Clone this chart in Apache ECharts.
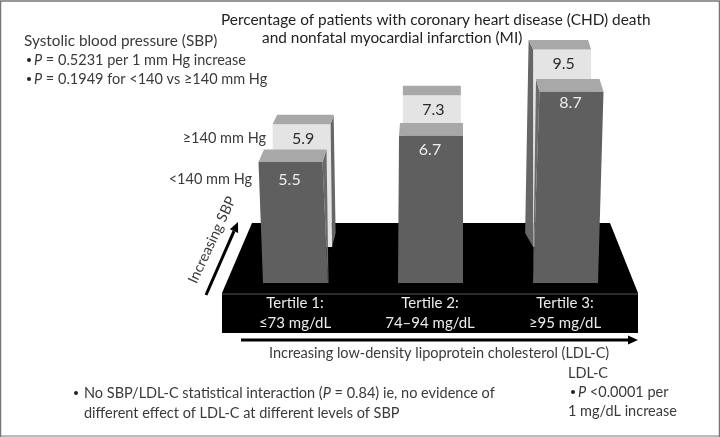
<!DOCTYPE html>
<html><head><meta charset="utf-8">
<style>html,body{margin:0;padding:0;background:#fff}#c{width:720px;height:437px}</style>
<script src="https://cdn.jsdelivr.net/npm/echarts@6/dist/echarts.min.js"></script>
</head><body><div id="c"></div>
<script>
const categories = ['Tertile 1:\n≤73 mg/dL', 'Tertile 2:\n74–94 mg/dL', 'Tertile 3:\n≥95 mg/dL'];
const lowSbpValues = [5.5, 6.7, 8.7];
const highSbpValues = [5.9, 7.3, 9.5];
const seriesNames = ['<140 mm Hg', '≥140 mm Hg'];

const FONT = 'Lato';
const INK = '#3a3a3a';
const chart = echarts.init(document.getElementById('c'));

function poly(points, fill, z2) {
  return { type: 'polygon', z2: z2 || 0, shape: { points }, style: { fill } };
}
function valueText(x, y, text, fill) {
  return { type: 'text', z2: 5, style: { x, y, text, fill, fontFamily: FONT, fontSize: 16, align: 'center', verticalAlign: 'middle' } };
}
const renderFront = (params, api) => {
  const [cx, yT] = api.coord([api.value(0), api.value(1)]);
  const [, yB] = api.coord([api.value(0), 0]);
  const s = params.dataIndex - 1;
  const yBack = yT - 12.5;
  const fL = cx - 31 + 5.5 * s, fR = cx + 33 + 5.5 * s;
  const bL = cx - 32, bR = cx + 33;
  const tL = cx - 30 + s, tR = cx + 33 + 1.5 * s;
  const ch = [
    poly([[fL, yT], [fR, yT], [bR, yB], [bL, yB]], '#5f5f5f'),
    poly([[tL, yBack], [tR, yBack], [fR, yT], [fL, yT]], '#a8a8a8', 2)
  ];
  if (s < 0) ch.push(poly([[fR, yT], [tR, yBack], [bR + 0.5, yB], [bR, yB]], '#6a6a6a', 1));
  if (s > 0) ch.push(poly([[fL, yT], [tL, yBack], [bL, yB]], '#6a6a6a', 1));
  ch.push(valueText(cx + 5.5 * s, yT + 14.5 - 3 * s, api.value(1).toFixed(1), '#eeeeee'));
  return { type: 'group', children: ch };
};
const renderBack = (params, api) => {
  const [cx, yT] = api.coord([api.value(0), api.value(1)]);
  const [, yB] = api.coord([api.value(0), 0]);
  const s = params.dataIndex - 1;
  const yBack = yT - 9.5;
  const fL = cx - 29, fR = cx + 29;
  const tL = cx - 29 - 4.5 * s, tR = cx + 29 - 3 * s;
  const ch = [
    poly([[fL, yT], [fR, yT], [fR + (s < 0 ? 1.5 : 0), yB], [fL, yB]], '#e4e4e4'),
    poly([[tL, yBack], [tR, yBack], [fR, yT], [fL, yT]], '#a8a8a8', 2)
  ];
  const sx = cx - 1.5 - 35.5 * s;
  if (s < 0) ch.push(poly([[fR, yT], [tR, yBack], [sx, yB - 14], [fR + 1.5, yB]], '#666666', 1));
  if (s > 0) ch.push(poly([[fL, yT], [tL, yBack], [sx, yB - 14], [fL, yB]], '#666666', 1));
  ch.push(valueText(cx + 1.5, yT + 14.5, api.value(1).toFixed(1), '#2b2b2b'));
  return { type: 'group', children: ch };
};

function label(x, y, text, size, opt) {
  return {
    type: 'text', z: 20,
    style: Object.assign({
      x, y, text, fill: INK, fontFamily: FONT, fontSize: size, verticalAlign: 'middle', align: 'left',
      rich: { i: { fontStyle: 'italic', fontFamily: FONT, fontSize: size, fill: INK } }
    }, opt || {})
  };
}
function bullet(x, y) {
  return { type: 'circle', z: 20, shape: { cx: x, cy: y, r: 2 }, style: { fill: '#222' } };
}
function arrow(x1, y1, x2, y2) {
  const a = Math.atan2(y2 - y1, x2 - x1), L = 10, W = 4.5;
  const mx = x2 - L * Math.cos(a), my = y2 - L * Math.sin(a);
  return [
    { type: 'line', z: 20, shape: { x1, y1, x2: mx, y2: my }, style: { stroke: '#000', lineWidth: 3 } },
    { type: 'polygon', z: 20, shape: { points: [[x2, y2],
      [mx - W * Math.sin(a), my + W * Math.cos(a)], [mx + W * Math.sin(a), my - W * Math.cos(a)]] }, style: { fill: '#000' } }
  ];
}
const sbpAxisLabel = Object.assign(label(0, 0, 'Increasing SBP', 14.5, { align: 'center' }),
  { x: 212, y: 240, rotation: 65 * Math.PI / 180 });

chart.setOption({
  animation: false,
  backgroundColor: '#fff',
  grid: [
    { left: 227.5, top: 63, width: 405, height: 220 },
    { left: 236.5, top: 39, width: 390.75, height: 208 }
  ],
  xAxis: [
    { type: 'category', gridIndex: 0, data: categories, axisLine: { show: false }, axisTick: { show: false },
      axisLabel: { color: '#ececec', fontFamily: FONT, fontSize: 15, lineHeight: 20, margin: 10 } },
    { type: 'category', gridIndex: 1, data: categories, show: false }
  ],
  yAxis: [
    { type: 'value', gridIndex: 0, min: 0, max: 10, show: false },
    { type: 'value', gridIndex: 1, min: 0, max: 10, show: false }
  ],
  series: [
    { type: 'custom', name: seriesNames[1], xAxisIndex: 1, yAxisIndex: 1, z: 3, renderItem: renderBack,
      data: highSbpValues.map((v, i) => [i, v]), encode: { x: 0, y: 1 } },
    { type: 'custom', name: seriesNames[0], xAxisIndex: 0, yAxisIndex: 0, z: 4, renderItem: renderFront,
      data: lowSbpValues.map((v, i) => [i, v]), encode: { x: 0, y: 1 } }
  ],
  graphic: { elements: [
    { type: 'polygon', z: -5, shape: { points: [[252, 223], [610, 223], [638, 293], [638, 333], [222, 333], [222, 293]] }, style: { fill: '#000' } },
    { type: 'line', z: -4, shape: { x1: 222, y1: 294, x2: 638, y2: 294 }, style: { stroke: '#555', lineWidth: 1 } },
    { type: 'polyline', z: 30, shape: { points: [[0.5, 437], [0.5, 1], [719.5, 1], [719.5, 437]] }, style: { stroke: '#777', lineWidth: 1.5, fill: 'none' } },
    { type: 'line', z: 30, shape: { x1: 0, y1: 436, x2: 720, y2: 436 }, style: { stroke: '#777', lineWidth: 1 } },
    label(221, 20, 'Percentage of patients with coronary heart disease (CHD) death', 15.4, { fill: '#222' }),
    label(262, 38, 'and nonfatal myocardial infarction (MI)', 15.4, { fill: '#222' }),
    label(24, 41, 'Systolic blood pressure (SBP)', 15.3),
    bullet(29, 60),
    label(34, 60, '{i|P} = 0.5231 per 1 mm Hg increase', 14.5),
    bullet(29, 79),
    label(34, 79, '{i|P} = 0.1949 for <140 vs ≥140 mm Hg', 14.5),
    label(266, 138, seriesNames[1], 14.5, { align: 'right' }),
    label(252, 179, seriesNames[0], 14.5, { align: 'right' }),
    sbpAxisLabel,
    ...arrow(206, 295, 238, 222),
    ...arrow(241, 340, 638, 340),
    label(269, 353, 'Increasing low-density lipoprotein cholesterol (LDL-C)', 14.5),
    bullet(76, 393),
    label(84, 393, 'No SBP/LDL-C statistical interaction ({i|P} = 0.84) ie, no evidence of', 14.5),
    label(84, 413, 'different effect of LDL-C at different levels of SBP', 14.5),
    label(568, 373, 'LDL-C', 14.5),
    bullet(573, 392),
    label(578, 392, '{i|P} <0.0001 per', 14.5),
    label(568, 411, '1 mg/dL increase', 14.5)
  ] }
});
</script></body></html>
